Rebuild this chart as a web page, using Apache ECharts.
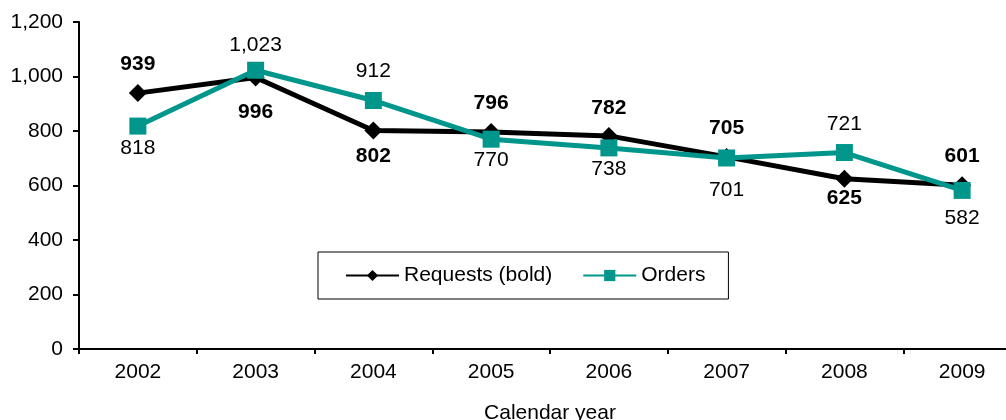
<!DOCTYPE html>
<html>
<head>
<meta charset="utf-8">
<script src="https://cdn.jsdelivr.net/npm/echarts@6/dist/echarts.min.js"></script>
<style>
html,body{margin:0;padding:0;background:#fff;}
#c{width:1006px;height:420px;}
</style>
</head>
<body>
<div id="c"></div>
<script>
const categories = ['2002','2003','2004','2005','2006','2007','2008','2009'];
const requests = [939, 996, 802, 796, 782, 705, 625, 601];
const orders = [818, 1023, 912, 770, 738, 701, 721, 582];
const yTicks = {min: 0, max: 1200, interval: 200};

// label placement (style only)
const reqLabelPos = [['top',9],['bottom',15],['bottom',6],['top',9],['top',8],['top',9],['bottom',0],['top',10]];
const ordLabelPos = [['bottom',3],['top',6],['top',10],['bottom',2],['bottom',2],['bottom',13],['top',9],['bottom',9]];

const FONT = '"Liberation Sans", Arial, sans-serif';
const FS = 21;
const TEAL = '#00968C';
const fmt = v => Number(v).toLocaleString('en-US');

function mkData(vals, pos) {
  return vals.map((v, i) => ({
    value: v,
    label: {position: pos[i][0], distance: pos[i][1]}
  }));
}

const chart = echarts.init(document.getElementById('c'), null, {renderer: 'canvas'});
chart.setOption({
  animation: false,
  backgroundColor: '#fff',
  textStyle: {fontFamily: FONT},
  grid: {left: 79, right: -15, top: 22, bottom: 71, containLabel: false, outerBoundsMode: 'none'},
  legend: {
    left: 318, top: 252,
    padding: [13, 23, 13, 27],
    borderColor: '#000', borderWidth: 1,
    itemWidth: 53, itemHeight: 14, itemGap: 30,
    textStyle: {fontFamily: FONT, fontSize: FS, color: '#000'},
    data: ['Requests (bold)', 'Orders']
  },
  xAxis: {
    type: 'category',
    data: categories,
    boundaryGap: true,
    name: 'Calendar year',
    nameLocation: 'middle',
    nameGap: 54,
    nameTextStyle: {fontFamily: FONT, fontSize: FS, color: '#000'},
    axisLine: {lineStyle: {color: '#000', width: 2}},
    axisTick: {show: true, length: 5, lineStyle: {color: '#000', width: 2}},
    axisLabel: {fontFamily: FONT, fontSize: FS, color: '#000', margin: 13},
    splitLine: {show: false}
  },
  yAxis: {
    type: 'value',
    min: yTicks.min, max: yTicks.max, interval: yTicks.interval,
    axisLine: {show: true, lineStyle: {color: '#000', width: 2}},
    axisTick: {show: true, length: 6, lineStyle: {color: '#000', width: 2}},
    axisLabel: {fontFamily: FONT, fontSize: FS, color: '#000', margin: 16, formatter: fmt},
    splitLine: {show: false}
  },
  series: [
    {
      name: 'Requests (bold)',
      type: 'line',
      data: mkData(requests, reqLabelPos),
      symbol: 'diamond',
      symbolSize: 18,
      itemStyle: {color: '#000'},
      lineStyle: {color: '#000', width: 5},
      label: {show: true, fontFamily: FONT, fontSize: FS, fontWeight: 'bold', color: '#000', formatter: p => fmt(p.value)},
      z: 2
    },
    {
      name: 'Orders',
      type: 'line',
      data: mkData(orders, ordLabelPos),
      symbol: 'rect',
      symbolSize: 17,
      itemStyle: {color: TEAL},
      lineStyle: {color: TEAL, width: 5},
      label: {show: true, fontFamily: FONT, fontSize: FS, color: '#000', formatter: p => fmt(p.value)},
      z: 3
    }
  ]
});
</script>
</body>
</html>
